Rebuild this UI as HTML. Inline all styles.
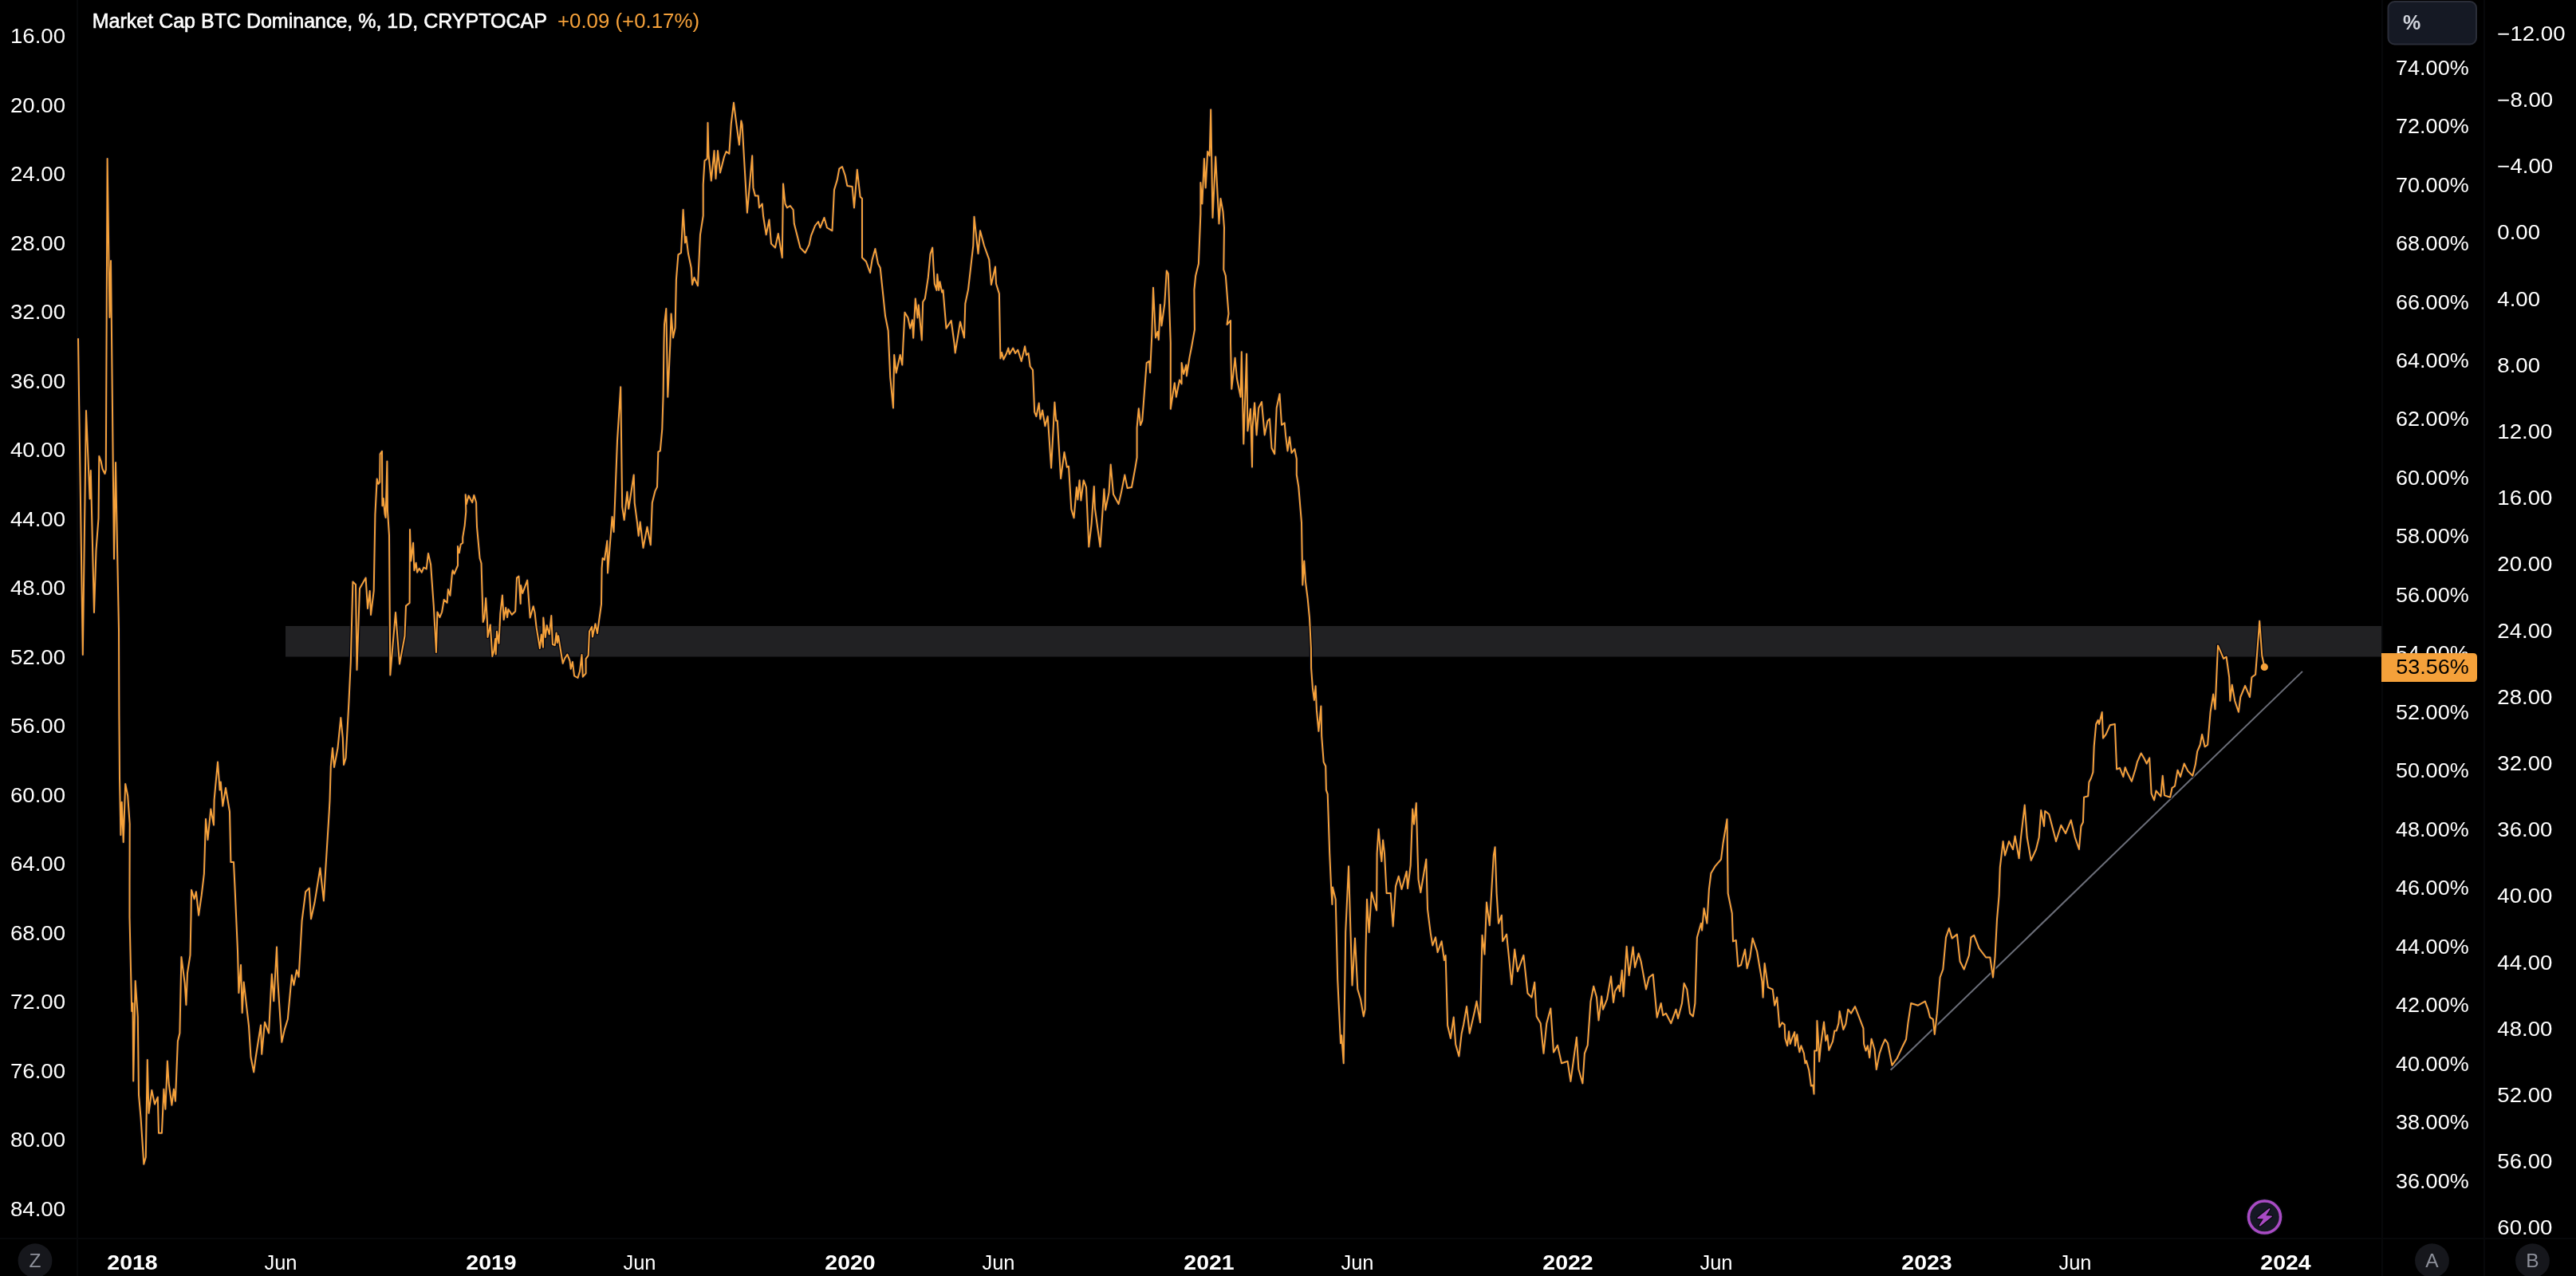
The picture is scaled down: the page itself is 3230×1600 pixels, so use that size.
<!DOCTYPE html>
<html><head><meta charset="utf-8"><style>
html,body{margin:0;padding:0;background:#000;width:3230px;height:1600px;overflow:hidden}
svg{display:block;will-change:transform}
text{font-family:"Liberation Sans", sans-serif;}
.ax{font-size:25.5px;fill:#fff}
.yr{font-weight:bold}
.btn{font-weight:bold;fill:#d1d4dc;font-size:25px}
.lg{font-size:25px;fill:#fff;stroke:#fff;stroke-width:0.6px}
.zab{font-size:24.5px;fill:#8d909a}
</style></head><body>
<svg width="3230" height="1600" viewBox="0 0 3230 1600">
<rect width="3230" height="1600" fill="#000"/>
<rect x="358" y="785" width="2628" height="38.5" fill="#212123"/>
<rect x="96" y="0" width="2" height="1600" fill="#07080a"/>
<rect x="2986" y="0" width="2" height="1600" fill="#07080a"/>
<rect x="3114" y="0" width="2" height="1600" fill="#07080a"/>
<rect x="0" y="1552" width="3230" height="2" fill="#07080a"/>
<text transform="translate(82,54.0) scale(1.082,1)" text-anchor="end" class="ax">16.00</text>
<text transform="translate(82,140.5) scale(1.082,1)" text-anchor="end" class="ax">20.00</text>
<text transform="translate(82,227.0) scale(1.082,1)" text-anchor="end" class="ax">24.00</text>
<text transform="translate(82,313.6) scale(1.082,1)" text-anchor="end" class="ax">28.00</text>
<text transform="translate(82,400.1) scale(1.082,1)" text-anchor="end" class="ax">32.00</text>
<text transform="translate(82,486.6) scale(1.082,1)" text-anchor="end" class="ax">36.00</text>
<text transform="translate(82,573.1) scale(1.082,1)" text-anchor="end" class="ax">40.00</text>
<text transform="translate(82,659.6) scale(1.082,1)" text-anchor="end" class="ax">44.00</text>
<text transform="translate(82,746.2) scale(1.082,1)" text-anchor="end" class="ax">48.00</text>
<text transform="translate(82,832.7) scale(1.082,1)" text-anchor="end" class="ax">52.00</text>
<text transform="translate(82,919.2) scale(1.082,1)" text-anchor="end" class="ax">56.00</text>
<text transform="translate(82,1005.7) scale(1.082,1)" text-anchor="end" class="ax">60.00</text>
<text transform="translate(82,1092.2) scale(1.082,1)" text-anchor="end" class="ax">64.00</text>
<text transform="translate(82,1178.8) scale(1.082,1)" text-anchor="end" class="ax">68.00</text>
<text transform="translate(82,1265.3) scale(1.082,1)" text-anchor="end" class="ax">72.00</text>
<text transform="translate(82,1351.8) scale(1.082,1)" text-anchor="end" class="ax">76.00</text>
<text transform="translate(82,1438.3) scale(1.082,1)" text-anchor="end" class="ax">80.00</text>
<text transform="translate(82,1524.8) scale(1.082,1)" text-anchor="end" class="ax">84.00</text>
<text transform="translate(3004.1,93.6) scale(1.059,1)" class="ax">74.00%</text>
<text transform="translate(3004.1,167.1) scale(1.059,1)" class="ax">72.00%</text>
<text transform="translate(3004.1,240.5) scale(1.059,1)" class="ax">70.00%</text>
<text transform="translate(3004.1,314.0) scale(1.059,1)" class="ax">68.00%</text>
<text transform="translate(3004.1,387.5) scale(1.059,1)" class="ax">66.00%</text>
<text transform="translate(3004.1,461.0) scale(1.059,1)" class="ax">64.00%</text>
<text transform="translate(3004.1,534.4) scale(1.059,1)" class="ax">62.00%</text>
<text transform="translate(3004.1,607.9) scale(1.059,1)" class="ax">60.00%</text>
<text transform="translate(3004.1,681.4) scale(1.059,1)" class="ax">58.00%</text>
<text transform="translate(3004.1,754.8) scale(1.059,1)" class="ax">56.00%</text>
<text transform="translate(3004.1,828.3) scale(1.059,1)" class="ax">54.00%</text>
<text transform="translate(3004.1,901.8) scale(1.059,1)" class="ax">52.00%</text>
<text transform="translate(3004.1,975.2) scale(1.059,1)" class="ax">50.00%</text>
<text transform="translate(3004.1,1048.7) scale(1.059,1)" class="ax">48.00%</text>
<text transform="translate(3004.1,1122.2) scale(1.059,1)" class="ax">46.00%</text>
<text transform="translate(3004.1,1195.6) scale(1.059,1)" class="ax">44.00%</text>
<text transform="translate(3004.1,1269.1) scale(1.059,1)" class="ax">42.00%</text>
<text transform="translate(3004.1,1342.6) scale(1.059,1)" class="ax">40.00%</text>
<text transform="translate(3004.1,1416.1) scale(1.059,1)" class="ax">38.00%</text>
<text transform="translate(3004.1,1489.5) scale(1.059,1)" class="ax">36.00%</text>
<text transform="translate(3131.3,50.8) scale(1.083,1)" class="ax">−12.00</text>
<text transform="translate(3131.3,134.0) scale(1.083,1)" class="ax">−8.00</text>
<text transform="translate(3131.3,217.2) scale(1.083,1)" class="ax">−4.00</text>
<text transform="translate(3131.3,300.4) scale(1.083,1)" class="ax">0.00</text>
<text transform="translate(3131.3,383.6) scale(1.083,1)" class="ax">4.00</text>
<text transform="translate(3131.3,466.8) scale(1.083,1)" class="ax">8.00</text>
<text transform="translate(3131.3,549.9) scale(1.083,1)" class="ax">12.00</text>
<text transform="translate(3131.3,633.1) scale(1.083,1)" class="ax">16.00</text>
<text transform="translate(3131.3,716.3) scale(1.083,1)" class="ax">20.00</text>
<text transform="translate(3131.3,799.5) scale(1.083,1)" class="ax">24.00</text>
<text transform="translate(3131.3,882.7) scale(1.083,1)" class="ax">28.00</text>
<text transform="translate(3131.3,965.9) scale(1.083,1)" class="ax">32.00</text>
<text transform="translate(3131.3,1049.1) scale(1.083,1)" class="ax">36.00</text>
<text transform="translate(3131.3,1132.3) scale(1.083,1)" class="ax">40.00</text>
<text transform="translate(3131.3,1215.5) scale(1.083,1)" class="ax">44.00</text>
<text transform="translate(3131.3,1298.6) scale(1.083,1)" class="ax">48.00</text>
<text transform="translate(3131.3,1381.8) scale(1.083,1)" class="ax">52.00</text>
<text transform="translate(3131.3,1465.0) scale(1.083,1)" class="ax">56.00</text>
<text transform="translate(3131.3,1548.2) scale(1.083,1)" class="ax">60.00</text>
<text x="134.3" y="1591.5" textLength="63.4" lengthAdjust="spacingAndGlyphs" class="ax yr">2018</text>
<text x="584.3" y="1591.5" textLength="63.4" lengthAdjust="spacingAndGlyphs" class="ax yr">2019</text>
<text x="1034.3" y="1591.5" textLength="63.4" lengthAdjust="spacingAndGlyphs" class="ax yr">2020</text>
<text x="1484.3" y="1591.5" textLength="63.4" lengthAdjust="spacingAndGlyphs" class="ax yr">2021</text>
<text x="1934.3" y="1591.5" textLength="63.4" lengthAdjust="spacingAndGlyphs" class="ax yr">2022</text>
<text x="2384.3" y="1591.5" textLength="63.4" lengthAdjust="spacingAndGlyphs" class="ax yr">2023</text>
<text x="2834.3" y="1591.5" textLength="63.4" lengthAdjust="spacingAndGlyphs" class="ax yr">2024</text>
<text x="352" y="1591.5" text-anchor="middle" class="ax">Jun</text>
<text x="802" y="1591.5" text-anchor="middle" class="ax">Jun</text>
<text x="1252" y="1591.5" text-anchor="middle" class="ax">Jun</text>
<text x="1702" y="1591.5" text-anchor="middle" class="ax">Jun</text>
<text x="2152" y="1591.5" text-anchor="middle" class="ax">Jun</text>
<text x="2602" y="1591.5" text-anchor="middle" class="ax">Jun</text>
<line x1="2370.6" y1="1341.7" x2="2887" y2="841.9" stroke="#6b6e79" stroke-width="2"/>
<path d="M98.0,425.0 L103.8,821.0 L108.0,515.0 L112.6,625.5 L113.8,590.0 L118.0,768.0 L120.5,690.0 L123.5,650.0 L124.3,572.0 L126.5,578.0 L128.5,588.0 L131.5,594.0 L132.8,589.0 L134.6,199.0 L137.5,398.0 L139.0,327.0 L143.0,700.7 L145.0,580.0 L149.0,790.0 L149.4,898.0 L150.0,975.6 L151.4,1047.0 L152.7,1005.7 L154.7,1056.0 L157.2,983.0 L160.2,998.0 L162.7,1033.0 L162.5,1110.0 L162.5,1150.0 L165.2,1268.0 L166.5,1258.0 L167.2,1355.6 L169.7,1230.0 L172.8,1275.0 L174.0,1373.0 L176.5,1400.8 L180.3,1459.7 L182.8,1451.0 L184.8,1329.0 L186.5,1395.8 L190.3,1367.0 L194.0,1384.5 L197.8,1375.7 L199.0,1420.8 L202.9,1420.8 L205.4,1365.7 L207.4,1390.7 L209.9,1330.6 L211.6,1358.0 L215.4,1385.7 L217.9,1365.7 L219.9,1380.7 L222.9,1305.5 L225.4,1295.5 L227.4,1200.0 L231.7,1232.8 L233.4,1260.0 L235.0,1220.0 L238.5,1197.6 L239.5,1150.0 L240.0,1115.9 L243.6,1127.3 L245.9,1118.2 L249.1,1147.7 L252.7,1122.7 L255.9,1095.5 L258.0,1027.0 L260.5,1053.0 L264.3,1014.5 L268.0,1034.5 L268.6,1003.0 L273.0,955.5 L275.6,990.6 L276.8,980.6 L279.3,1010.7 L283.0,988.0 L288.0,1018.0 L289.4,1081.0 L293.0,1081.0 L294.4,1110.0 L298.0,1192.6 L299.4,1245.0 L302.0,1210.0 L303.7,1270.0 L305.7,1231.5 L312.0,1286.7 L314.5,1325.5 L318.2,1344.4 L320.7,1325.5 L327.0,1285.4 L328.2,1321.8 L332.0,1281.7 L337.0,1295.5 L340.8,1221.5 L343.3,1255.3 L347.0,1187.6 L348.3,1230.0 L353.3,1306.7 L357.0,1290.4 L360.8,1278.0 L365.9,1222.7 L368.4,1235.3 L372.0,1216.5 L374.6,1225.0 L378.6,1154.5 L383.2,1118.2 L387.7,1113.6 L390.0,1152.3 L394.5,1131.8 L401.4,1088.6 L405.9,1129.5 L408.2,1091.0 L412.7,1018.2 L413.5,1004.0 L414.8,960.5 L417.0,938.0 L419.0,962.0 L423.5,938.0 L427.3,900.0 L429.8,925.4 L431.0,959.0 L433.6,950.5 L437.3,882.8 L439.8,830.0 L442.4,729.6 L446.0,733.0 L447.5,840.0 L451.0,738.0 L458.6,724.5 L461.0,763.0 L463.7,741.0 L465.0,771.0 L468.7,741.0 L470.4,645.0 L472.7,600.4 L474.4,606.8 L476.2,604.7 L476.6,569.4 L479.0,565.9 L479.4,634.3 L480.8,625.1 L482.5,644.2 L483.6,649.0 L485.4,578.6 L486.0,640.6 L488.0,671.3 L489.3,846.4 L496.0,768.0 L501.0,832.6 L507.5,797.5 L509.0,759.7 L513.6,756.0 L514.0,664.1 L515.3,703.3 L518.1,680.8 L519.4,715.2 L521.6,705.8 L523.1,717.7 L525.7,712.7 L528.8,717.7 L531.3,711.5 L534.7,713.4 L537.0,693.9 L540.1,707.7 L543.8,759.8 L546.9,818.0 L548.4,767.5 L551.5,774.0 L554.1,767.5 L556.7,752.0 L560.6,755.9 L561.9,739.0 L564.4,746.8 L567.0,718.4 L567.7,715.2 L569.5,719.6 L574.0,709.0 L574.0,685.1 L575.8,693.3 L577.7,682.6 L580.2,680.8 L580.2,673.9 L582.7,658.8 L584.3,641.3 L583.7,620.2 L584.8,632.2 L587.6,621.6 L592.2,630.0 L594.3,620.9 L597.1,630.0 L597.5,646.0 L598.0,660.6 L601.6,700.0 L603.5,706.3 L605.7,780.0 L607.3,775.0 L609.2,750.0 L611.0,780.0 L611.5,799.0 L614.8,783.5 L617.3,823.0 L619.2,816.8 L621.1,801.1 L621.7,820.5 L623.0,791.7 L625.5,806.7 L627.3,769.6 L629.9,746.4 L631.7,777.1 L634.2,762.1 L636.1,774.0 L637.4,764.0 L641.8,770.8 L646.2,766.5 L648.0,724.5 L650.5,722.6 L652.7,757.0 L653.1,733.9 L655.2,743.9 L661.2,727.6 L664.7,774.6 L668.7,760.2 L670.6,768.3 L672.5,786.0 L676.9,813.0 L678.8,795.4 L681.0,811.7 L681.3,774.6 L683.8,799.2 L685.7,784.2 L688.8,795.4 L691.3,772.1 L692.9,808.0 L695.7,809.2 L697.6,793.6 L698.8,806.1 L700.1,797.3 L702.6,813.0 L705.7,831.8 L708.2,825.5 L711.4,820.5 L714.5,828.7 L715.7,838.7 L717.9,829.9 L720.1,847.5 L724.5,850.0 L727.0,841.8 L729.5,821.1 L730.8,848.7 L734.6,844.3 L734.6,826.2 L737.7,821.8 L739.0,791.7 L742.1,786.0 L743.0,798.6 L746.5,782.3 L749.0,794.2 L751.2,777.3 L754.0,757.7 L754.6,712.5 L755.6,700.0 L758.0,702.0 L761.3,678.3 L762.0,718.4 L767.6,648.0 L769.6,667.0 L774.0,552.9 L778.2,485.2 L780.2,635.6 L782.7,652.0 L786.4,616.8 L788.2,638.0 L794.7,595.5 L795.7,630.6 L799.0,655.7 L800.7,672.0 L802.7,654.5 L806.5,687.0 L811.5,660.7 L815.8,683.3 L817.8,630.6 L821.5,615.6 L824.0,610.6 L825.3,566.7 L827.8,565.4 L830.3,537.8 L831.6,495.2 L832.5,430.0 L833.0,407.0 L835.3,387.0 L837.3,497.7 L840.3,432.5 L841.6,393.4 L844.0,423.5 L846.6,411.0 L847.9,350.7 L850.4,319.4 L854.0,317.0 L856.6,263.0 L859.0,304.4 L860.4,296.8 L863.0,318.0 L866.7,335.7 L868.0,357.0 L870.4,348.0 L875.0,358.3 L878.0,294.3 L881.7,270.5 L881.7,231.6 L883.5,201.5 L886.7,199.0 L887.5,154.0 L888.5,194.0 L891.8,226.6 L895.5,189.0 L897.5,224.0 L900.0,189.0 L903.0,216.6 L908.0,196.5 L910.6,190.0 L914.3,192.8 L916.8,155.0 L920.0,128.8 L923.0,152.6 L926.9,181.5 L929.4,151.4 L930.6,156.4 L931.9,179.0 L936.9,266.7 L943.2,195.3 L944.4,235.4 L946.9,245.4 L950.7,245.4 L952.0,260.5 L955.7,255.5 L957.0,270.5 L960.7,294.3 L964.5,275.5 L967.0,305.6 L972.0,310.6 L975.8,293.0 L980.8,323.0 L982.0,230.4 L984.5,255.5 L987.0,260.5 L990.8,258.0 L994.6,263.0 L995.8,280.5 L1003.4,310.6 L1009.6,317.0 L1014.6,306.9 L1017.0,295.6 L1022.0,283.0 L1026.0,278.0 L1028.4,285.5 L1033.5,273.0 L1037.0,285.5 L1043.5,289.3 L1046.0,238.0 L1049.8,225.4 L1052.3,211.6 L1056.0,209.0 L1059.8,220.3 L1062.3,232.9 L1068.6,234.0 L1071.0,260.5 L1074.8,212.8 L1078.6,246.7 L1081.0,249.0 L1081.0,323.0 L1086.0,328.0 L1091.0,342.0 L1093.6,325.7 L1097.4,312.0 L1101.0,330.7 L1103.7,335.7 L1107.4,370.8 L1110.0,396.0 L1113.7,414.7 L1116.2,472.6 L1120.0,511.5 L1121.2,445.0 L1123.7,467.6 L1128.7,445.0 L1131.3,457.6 L1132.5,430.0 L1134.5,391.8 L1138.5,398.5 L1141.2,411.8 L1143.9,401.2 L1145.2,423.8 L1147.8,374.5 L1150.5,398.5 L1151.8,382.5 L1155.8,426.5 L1157.2,378.5 L1159.8,374.5 L1163.8,347.9 L1166.5,318.6 L1169.2,310.6 L1170.5,334.5 L1171.8,355.9 L1174.5,363.9 L1175.3,343.9 L1177.2,363.9 L1178.5,353.2 L1181.2,366.5 L1182.5,363.9 L1186.5,411.8 L1192.7,402.0 L1196.5,430.0 L1197.7,442.5 L1204.0,403.4 L1209.0,423.5 L1210.3,380.8 L1214.0,363.3 L1220.3,308.0 L1221.5,271.8 L1226.5,318.0 L1229.0,289.3 L1234.0,308.0 L1240.3,325.7 L1242.9,357.0 L1248.0,334.5 L1249.0,355.8 L1252.9,368.3 L1254.4,449.6 L1256.1,442.0 L1258.3,450.7 L1262.1,443.0 L1264.3,436.5 L1265.8,444.1 L1270.2,436.5 L1273.1,443.0 L1276.3,438.7 L1280.7,452.9 L1282.9,444.1 L1285.1,434.3 L1286.9,445.2 L1289.5,443.0 L1291.7,459.5 L1295.0,463.9 L1296.1,490.3 L1297.2,516.6 L1299.4,522.1 L1302.7,505.6 L1304.4,525.4 L1307.1,514.4 L1310.4,534.2 L1313.7,522.1 L1318.1,586.8 L1322.4,504.5 L1324.2,527.6 L1325.8,527.6 L1330.1,600.0 L1334.5,567.1 L1337.8,585.7 L1340.0,584.7 L1343.3,638.4 L1346.6,649.4 L1349.9,611.0 L1351.4,626.4 L1353.6,602.2 L1355.4,627.5 L1358.7,602.2 L1362.0,611.0 L1365.3,685.6 L1368.6,657.1 L1371.8,609.9 L1372.9,637.3 L1379.5,685.6 L1384.4,613.2 L1386.1,639.5 L1390.5,617.6 L1392.7,582.5 L1396.0,619.8 L1402.6,631.9 L1405.9,617.6 L1410.3,595.6 L1413.6,612.1 L1419.0,611.0 L1423.4,586.8 L1425.6,573.7 L1425.6,536.4 L1427.8,512.2 L1430.0,533.1 L1432.2,527.6 L1437.7,455.1 L1441.0,452.9 L1442.1,467.2 L1444.3,420.0 L1446.0,360.8 L1449.0,423.5 L1451.5,416.0 L1452.8,426.0 L1454.8,382.0 L1456.5,408.4 L1460.3,380.8 L1462.8,339.5 L1464.8,343.2 L1467.8,430.0 L1467.8,512.8 L1472.8,480.2 L1474.8,497.7 L1479.0,476.4 L1481.6,481.4 L1481.6,455.0 L1484.1,468.9 L1487.4,457.6 L1487.9,471.4 L1491.6,447.6 L1494.1,435.0 L1497.9,413.4 L1497.4,363.3 L1499.2,345.7 L1502.9,330.7 L1505.4,268.0 L1505.4,229.0 L1507.4,255.5 L1509.9,199.0 L1511.7,235.4 L1514.2,190.0 L1516.7,195.3 L1518.2,137.6 L1520.5,273.0 L1524.2,196.5 L1526.7,245.4 L1528.5,280.5 L1530.5,249.0 L1533.5,265.5 L1535.0,285.5 L1534.3,338.0 L1536.8,345.7 L1540.5,393.4 L1538.5,407.0 L1543.0,402.0 L1543.0,430.0 L1544.3,487.7 L1548.6,448.8 L1551.0,475.0 L1555.6,497.7 L1556.8,441.3 L1559.3,556.6 L1563.1,443.8 L1564.4,540.3 L1568.0,512.8 L1570.0,585.5 L1570.6,535.3 L1573.1,505.2 L1575.6,545.4 L1578.2,511.5 L1582.0,504.0 L1583.2,517.8 L1585.7,545.4 L1589.4,527.8 L1592.0,525.3 L1594.5,561.7 L1598.2,569.2 L1600.7,511.5 L1604.5,494.0 L1607.0,532.8 L1610.7,530.3 L1612.0,545.4 L1614.5,565.4 L1617.0,547.9 L1619.5,568.0 L1623.3,563.0 L1625.8,575.5 L1625.8,595.5 L1628.3,610.6 L1632.0,655.7 L1633.3,733.4 L1635.3,703.4 L1637.0,729.7 L1639.6,750.0 L1642.0,775.0 L1643.9,812.7 L1644.1,837.8 L1645.9,862.9 L1647.9,877.9 L1649.6,860.3 L1650.9,890.4 L1653.4,916.8 L1656.4,885.4 L1657.2,923.0 L1659.7,955.6 L1662.2,960.7 L1662.9,990.7 L1664.7,995.8 L1667.2,1070.0 L1669.0,1110.0 L1670.4,1134.0 L1671.0,1112.6 L1674.7,1127.7 L1677.2,1228.0 L1681.0,1308.2 L1682.2,1298.2 L1684.7,1333.3 L1686.5,1220.5 L1687.2,1169.0 L1691.0,1086.3 L1695.5,1235.5 L1699.0,1176.6 L1702.3,1240.5 L1706.0,1253.0 L1709.8,1274.4 L1711.6,1265.6 L1712.3,1200.4 L1714.0,1127.7 L1716.6,1169.0 L1719.8,1118.9 L1726.1,1141.5 L1726.6,1070.0 L1728.6,1039.7 L1731.1,1070.0 L1732.4,1080.0 L1734.1,1053.4 L1736.0,1070.0 L1738.6,1120.0 L1743.7,1120.0 L1746.7,1161.5 L1750.0,1111.4 L1753.7,1098.8 L1757.5,1115.0 L1763.7,1092.6 L1765.0,1114.0 L1768.7,1085.0 L1771.2,1014.6 L1773.0,1033.4 L1775.8,1007.0 L1777.5,1070.0 L1778.5,1102.6 L1781.3,1119.0 L1788.3,1077.5 L1790.0,1140.0 L1793.8,1170.3 L1796.3,1185.4 L1800.0,1175.3 L1802.6,1194.0 L1807.6,1180.3 L1810.9,1204.0 L1812.6,1198.0 L1815.1,1285.7 L1818.9,1302.0 L1822.7,1275.6 L1825.2,1309.5 L1829.4,1324.5 L1832.7,1295.7 L1835.2,1284.4 L1839.0,1261.9 L1842.7,1295.7 L1849.0,1268.0 L1851.5,1255.6 L1856.0,1282.0 L1858.5,1172.8 L1861.5,1196.6 L1864.0,1131.4 L1867.8,1160.3 L1872.8,1072.5 L1874.6,1062.2 L1876.6,1120.2 L1879.0,1157.8 L1882.9,1147.7 L1884.1,1180.3 L1889.1,1171.6 L1895.4,1234.3 L1899.2,1190.4 L1902.9,1218.0 L1910.4,1197.9 L1915.5,1245.5 L1920.5,1250.6 L1924.2,1231.8 L1926.7,1274.4 L1931.7,1283.2 L1935.5,1320.8 L1939.3,1283.2 L1944.3,1264.4 L1948.0,1319.5 L1953.0,1310.7 L1958.0,1333.3 L1965.6,1330.8 L1969.4,1355.9 L1976.9,1300.7 L1979.4,1340.8 L1984.4,1358.4 L1986.9,1320.8 L1990.7,1310.7 L1994.5,1255.6 L1998.2,1236.8 L2002.0,1250.6 L2004.5,1279.4 L2008.2,1249.3 L2010.0,1265.7 L2015.0,1253.0 L2020.0,1224.3 L2023.0,1257.0 L2025.0,1243.0 L2029.6,1235.6 L2031.0,1243.0 L2033.8,1216.8 L2035.6,1249.4 L2039.6,1186.7 L2042.6,1223.0 L2047.6,1187.4 L2050.0,1213.0 L2054.6,1195.5 L2057.6,1205.5 L2064.0,1240.6 L2067.7,1225.5 L2072.7,1221.8 L2077.7,1275.7 L2082.7,1258.0 L2085.2,1273.2 L2089.0,1270.7 L2095.3,1283.2 L2101.5,1265.7 L2104.0,1277.0 L2109.0,1258.0 L2111.6,1233.0 L2115.3,1240.6 L2119.0,1270.7 L2122.9,1274.4 L2125.4,1258.0 L2127.9,1175.4 L2132.9,1157.8 L2134.1,1166.6 L2136.6,1139.0 L2140.4,1157.8 L2142.9,1115.2 L2145.4,1095.1 L2150.4,1086.4 L2158.0,1077.6 L2160.5,1057.5 L2165.5,1027.2 L2166.7,1120.2 L2171.8,1145.3 L2173.0,1180.4 L2176.8,1179.0 L2179.3,1211.8 L2183.0,1210.0 L2188.0,1190.4 L2190.6,1214.3 L2194.3,1200.5 L2197.6,1176.6 L2203.1,1193.0 L2205.6,1208.0 L2209.4,1230.6 L2210.6,1250.6 L2212.6,1208.0 L2216.9,1238.0 L2222.7,1240.6 L2225.2,1260.7 L2228.2,1250.6 L2231.3,1287.8 L2234.5,1282.4 L2237.6,1284.7 L2238.4,1301.9 L2241.1,1311.3 L2243.1,1293.3 L2244.7,1309.0 L2247.0,1301.9 L2250.2,1294.1 L2250.9,1311.3 L2253.3,1297.2 L2254.9,1311.3 L2256.4,1319.2 L2258.4,1311.3 L2261.9,1320.8 L2263.5,1333.3 L2265.0,1330.2 L2268.2,1341.9 L2270.9,1361.5 L2273.3,1360.7 L2274.5,1371.7 L2275.2,1317.6 L2278.0,1317.6 L2278.4,1280.0 L2280.3,1309.8 L2281.1,1330.9 L2283.1,1309.8 L2287.0,1281.6 L2289.3,1305.1 L2291.3,1298.0 L2293.3,1316.8 L2298.0,1305.9 L2300.3,1292.5 L2302.7,1292.5 L2305.4,1283.1 L2306.6,1268.0 L2311.3,1291.0 L2314.4,1283.9 L2317.2,1265.7 L2321.0,1270.7 L2326.0,1262.0 L2336.4,1289.4 L2337.1,1309.0 L2339.5,1317.6 L2341.8,1311.3 L2344.2,1326.2 L2346.6,1302.7 L2350.5,1316.0 L2352.8,1341.1 L2356.7,1320.8 L2360.0,1311.3 L2363.6,1303.3 L2367.0,1308.0 L2372.4,1335.9 L2378.7,1327.0 L2385.0,1313.3 L2390.0,1303.3 L2392.4,1283.2 L2396.2,1258.0 L2405.0,1260.7 L2413.8,1255.6 L2417.5,1265.7 L2420.0,1275.7 L2423.8,1278.2 L2425.8,1297.0 L2428.8,1270.7 L2432.6,1225.5 L2436.3,1215.5 L2440.0,1175.4 L2443.9,1164.0 L2447.6,1176.6 L2453.9,1171.6 L2457.6,1205.5 L2462.7,1215.5 L2468.9,1198.0 L2471.4,1175.4 L2475.2,1172.9 L2481.5,1189.2 L2490.2,1200.5 L2495.3,1200.5 L2499.0,1225.5 L2501.5,1200.5 L2504.0,1152.8 L2506.6,1122.7 L2507.8,1087.6 L2511.6,1055.0 L2514.0,1072.6 L2519.0,1055.0 L2524.0,1065.0 L2526.6,1048.5 L2531.6,1076.3 L2534.0,1050.0 L2538.7,1009.6 L2541.7,1050.0 L2546.7,1078.8 L2553.0,1065.0 L2556.7,1050.0 L2559.2,1015.9 L2563.0,1036.0 L2564.2,1017.0 L2569.2,1021.0 L2576.8,1050.0 L2578.0,1055.0 L2584.3,1034.7 L2590.0,1045.0 L2596.8,1028.4 L2601.8,1050.0 L2606.9,1065.0 L2609.4,1036.0 L2611.9,1031.0 L2613.1,999.6 L2618.2,998.3 L2619.4,980.8 L2621.9,975.8 L2624.4,968.2 L2625.7,935.6 L2628.2,908.0 L2630.7,903.0 L2632.0,908.0 L2635.7,893.0 L2637.0,925.6 L2640.7,920.6 L2645.7,909.3 L2651.8,908.0 L2654.1,964.5 L2658.0,963.0 L2662.3,974.0 L2664.7,962.2 L2667.0,968.0 L2672.9,979.8 L2677.6,964.5 L2680.0,955.1 L2684.7,944.5 L2688.2,950.4 L2691.7,957.5 L2695.2,950.4 L2697.6,995.1 L2701.1,1003.3 L2703.5,991.6 L2709.4,998.6 L2711.7,972.7 L2714.0,997.4 L2721.1,999.8 L2723.5,988.0 L2727.0,985.7 L2730.5,965.7 L2734.0,974.0 L2738.7,957.5 L2743.4,966.9 L2749.3,972.7 L2752.8,958.6 L2755.2,942.2 L2758.7,934.0 L2761.1,921.0 L2764.6,936.3 L2768.1,934.0 L2771.6,892.8 L2775.2,870.5 L2777.5,889.3 L2781.0,809.4 L2784.6,817.6 L2788.1,825.8 L2791.6,823.5 L2795.2,849.3 L2796.3,878.7 L2798.7,858.7 L2802.2,878.7 L2806.9,892.8 L2809.3,874.0 L2815.1,859.9 L2821.0,874.0 L2823.4,849.3 L2828.1,845.8 L2833.2,778.8 L2836.3,822.3 L2839.3,836.4" fill="none" stroke="#060814" stroke-width="4.6" stroke-linejoin="round" stroke-linecap="round"/>
<path d="M98.0,425.0 L103.8,821.0 L108.0,515.0 L112.6,625.5 L113.8,590.0 L118.0,768.0 L120.5,690.0 L123.5,650.0 L124.3,572.0 L126.5,578.0 L128.5,588.0 L131.5,594.0 L132.8,589.0 L134.6,199.0 L137.5,398.0 L139.0,327.0 L143.0,700.7 L145.0,580.0 L149.0,790.0 L149.4,898.0 L150.0,975.6 L151.4,1047.0 L152.7,1005.7 L154.7,1056.0 L157.2,983.0 L160.2,998.0 L162.7,1033.0 L162.5,1110.0 L162.5,1150.0 L165.2,1268.0 L166.5,1258.0 L167.2,1355.6 L169.7,1230.0 L172.8,1275.0 L174.0,1373.0 L176.5,1400.8 L180.3,1459.7 L182.8,1451.0 L184.8,1329.0 L186.5,1395.8 L190.3,1367.0 L194.0,1384.5 L197.8,1375.7 L199.0,1420.8 L202.9,1420.8 L205.4,1365.7 L207.4,1390.7 L209.9,1330.6 L211.6,1358.0 L215.4,1385.7 L217.9,1365.7 L219.9,1380.7 L222.9,1305.5 L225.4,1295.5 L227.4,1200.0 L231.7,1232.8 L233.4,1260.0 L235.0,1220.0 L238.5,1197.6 L239.5,1150.0 L240.0,1115.9 L243.6,1127.3 L245.9,1118.2 L249.1,1147.7 L252.7,1122.7 L255.9,1095.5 L258.0,1027.0 L260.5,1053.0 L264.3,1014.5 L268.0,1034.5 L268.6,1003.0 L273.0,955.5 L275.6,990.6 L276.8,980.6 L279.3,1010.7 L283.0,988.0 L288.0,1018.0 L289.4,1081.0 L293.0,1081.0 L294.4,1110.0 L298.0,1192.6 L299.4,1245.0 L302.0,1210.0 L303.7,1270.0 L305.7,1231.5 L312.0,1286.7 L314.5,1325.5 L318.2,1344.4 L320.7,1325.5 L327.0,1285.4 L328.2,1321.8 L332.0,1281.7 L337.0,1295.5 L340.8,1221.5 L343.3,1255.3 L347.0,1187.6 L348.3,1230.0 L353.3,1306.7 L357.0,1290.4 L360.8,1278.0 L365.9,1222.7 L368.4,1235.3 L372.0,1216.5 L374.6,1225.0 L378.6,1154.5 L383.2,1118.2 L387.7,1113.6 L390.0,1152.3 L394.5,1131.8 L401.4,1088.6 L405.9,1129.5 L408.2,1091.0 L412.7,1018.2 L413.5,1004.0 L414.8,960.5 L417.0,938.0 L419.0,962.0 L423.5,938.0 L427.3,900.0 L429.8,925.4 L431.0,959.0 L433.6,950.5 L437.3,882.8 L439.8,830.0 L442.4,729.6 L446.0,733.0 L447.5,840.0 L451.0,738.0 L458.6,724.5 L461.0,763.0 L463.7,741.0 L465.0,771.0 L468.7,741.0 L470.4,645.0 L472.7,600.4 L474.4,606.8 L476.2,604.7 L476.6,569.4 L479.0,565.9 L479.4,634.3 L480.8,625.1 L482.5,644.2 L483.6,649.0 L485.4,578.6 L486.0,640.6 L488.0,671.3 L489.3,846.4 L496.0,768.0 L501.0,832.6 L507.5,797.5 L509.0,759.7 L513.6,756.0 L514.0,664.1 L515.3,703.3 L518.1,680.8 L519.4,715.2 L521.6,705.8 L523.1,717.7 L525.7,712.7 L528.8,717.7 L531.3,711.5 L534.7,713.4 L537.0,693.9 L540.1,707.7 L543.8,759.8 L546.9,818.0 L548.4,767.5 L551.5,774.0 L554.1,767.5 L556.7,752.0 L560.6,755.9 L561.9,739.0 L564.4,746.8 L567.0,718.4 L567.7,715.2 L569.5,719.6 L574.0,709.0 L574.0,685.1 L575.8,693.3 L577.7,682.6 L580.2,680.8 L580.2,673.9 L582.7,658.8 L584.3,641.3 L583.7,620.2 L584.8,632.2 L587.6,621.6 L592.2,630.0 L594.3,620.9 L597.1,630.0 L597.5,646.0 L598.0,660.6 L601.6,700.0 L603.5,706.3 L605.7,780.0 L607.3,775.0 L609.2,750.0 L611.0,780.0 L611.5,799.0 L614.8,783.5 L617.3,823.0 L619.2,816.8 L621.1,801.1 L621.7,820.5 L623.0,791.7 L625.5,806.7 L627.3,769.6 L629.9,746.4 L631.7,777.1 L634.2,762.1 L636.1,774.0 L637.4,764.0 L641.8,770.8 L646.2,766.5 L648.0,724.5 L650.5,722.6 L652.7,757.0 L653.1,733.9 L655.2,743.9 L661.2,727.6 L664.7,774.6 L668.7,760.2 L670.6,768.3 L672.5,786.0 L676.9,813.0 L678.8,795.4 L681.0,811.7 L681.3,774.6 L683.8,799.2 L685.7,784.2 L688.8,795.4 L691.3,772.1 L692.9,808.0 L695.7,809.2 L697.6,793.6 L698.8,806.1 L700.1,797.3 L702.6,813.0 L705.7,831.8 L708.2,825.5 L711.4,820.5 L714.5,828.7 L715.7,838.7 L717.9,829.9 L720.1,847.5 L724.5,850.0 L727.0,841.8 L729.5,821.1 L730.8,848.7 L734.6,844.3 L734.6,826.2 L737.7,821.8 L739.0,791.7 L742.1,786.0 L743.0,798.6 L746.5,782.3 L749.0,794.2 L751.2,777.3 L754.0,757.7 L754.6,712.5 L755.6,700.0 L758.0,702.0 L761.3,678.3 L762.0,718.4 L767.6,648.0 L769.6,667.0 L774.0,552.9 L778.2,485.2 L780.2,635.6 L782.7,652.0 L786.4,616.8 L788.2,638.0 L794.7,595.5 L795.7,630.6 L799.0,655.7 L800.7,672.0 L802.7,654.5 L806.5,687.0 L811.5,660.7 L815.8,683.3 L817.8,630.6 L821.5,615.6 L824.0,610.6 L825.3,566.7 L827.8,565.4 L830.3,537.8 L831.6,495.2 L832.5,430.0 L833.0,407.0 L835.3,387.0 L837.3,497.7 L840.3,432.5 L841.6,393.4 L844.0,423.5 L846.6,411.0 L847.9,350.7 L850.4,319.4 L854.0,317.0 L856.6,263.0 L859.0,304.4 L860.4,296.8 L863.0,318.0 L866.7,335.7 L868.0,357.0 L870.4,348.0 L875.0,358.3 L878.0,294.3 L881.7,270.5 L881.7,231.6 L883.5,201.5 L886.7,199.0 L887.5,154.0 L888.5,194.0 L891.8,226.6 L895.5,189.0 L897.5,224.0 L900.0,189.0 L903.0,216.6 L908.0,196.5 L910.6,190.0 L914.3,192.8 L916.8,155.0 L920.0,128.8 L923.0,152.6 L926.9,181.5 L929.4,151.4 L930.6,156.4 L931.9,179.0 L936.9,266.7 L943.2,195.3 L944.4,235.4 L946.9,245.4 L950.7,245.4 L952.0,260.5 L955.7,255.5 L957.0,270.5 L960.7,294.3 L964.5,275.5 L967.0,305.6 L972.0,310.6 L975.8,293.0 L980.8,323.0 L982.0,230.4 L984.5,255.5 L987.0,260.5 L990.8,258.0 L994.6,263.0 L995.8,280.5 L1003.4,310.6 L1009.6,317.0 L1014.6,306.9 L1017.0,295.6 L1022.0,283.0 L1026.0,278.0 L1028.4,285.5 L1033.5,273.0 L1037.0,285.5 L1043.5,289.3 L1046.0,238.0 L1049.8,225.4 L1052.3,211.6 L1056.0,209.0 L1059.8,220.3 L1062.3,232.9 L1068.6,234.0 L1071.0,260.5 L1074.8,212.8 L1078.6,246.7 L1081.0,249.0 L1081.0,323.0 L1086.0,328.0 L1091.0,342.0 L1093.6,325.7 L1097.4,312.0 L1101.0,330.7 L1103.7,335.7 L1107.4,370.8 L1110.0,396.0 L1113.7,414.7 L1116.2,472.6 L1120.0,511.5 L1121.2,445.0 L1123.7,467.6 L1128.7,445.0 L1131.3,457.6 L1132.5,430.0 L1134.5,391.8 L1138.5,398.5 L1141.2,411.8 L1143.9,401.2 L1145.2,423.8 L1147.8,374.5 L1150.5,398.5 L1151.8,382.5 L1155.8,426.5 L1157.2,378.5 L1159.8,374.5 L1163.8,347.9 L1166.5,318.6 L1169.2,310.6 L1170.5,334.5 L1171.8,355.9 L1174.5,363.9 L1175.3,343.9 L1177.2,363.9 L1178.5,353.2 L1181.2,366.5 L1182.5,363.9 L1186.5,411.8 L1192.7,402.0 L1196.5,430.0 L1197.7,442.5 L1204.0,403.4 L1209.0,423.5 L1210.3,380.8 L1214.0,363.3 L1220.3,308.0 L1221.5,271.8 L1226.5,318.0 L1229.0,289.3 L1234.0,308.0 L1240.3,325.7 L1242.9,357.0 L1248.0,334.5 L1249.0,355.8 L1252.9,368.3 L1254.4,449.6 L1256.1,442.0 L1258.3,450.7 L1262.1,443.0 L1264.3,436.5 L1265.8,444.1 L1270.2,436.5 L1273.1,443.0 L1276.3,438.7 L1280.7,452.9 L1282.9,444.1 L1285.1,434.3 L1286.9,445.2 L1289.5,443.0 L1291.7,459.5 L1295.0,463.9 L1296.1,490.3 L1297.2,516.6 L1299.4,522.1 L1302.7,505.6 L1304.4,525.4 L1307.1,514.4 L1310.4,534.2 L1313.7,522.1 L1318.1,586.8 L1322.4,504.5 L1324.2,527.6 L1325.8,527.6 L1330.1,600.0 L1334.5,567.1 L1337.8,585.7 L1340.0,584.7 L1343.3,638.4 L1346.6,649.4 L1349.9,611.0 L1351.4,626.4 L1353.6,602.2 L1355.4,627.5 L1358.7,602.2 L1362.0,611.0 L1365.3,685.6 L1368.6,657.1 L1371.8,609.9 L1372.9,637.3 L1379.5,685.6 L1384.4,613.2 L1386.1,639.5 L1390.5,617.6 L1392.7,582.5 L1396.0,619.8 L1402.6,631.9 L1405.9,617.6 L1410.3,595.6 L1413.6,612.1 L1419.0,611.0 L1423.4,586.8 L1425.6,573.7 L1425.6,536.4 L1427.8,512.2 L1430.0,533.1 L1432.2,527.6 L1437.7,455.1 L1441.0,452.9 L1442.1,467.2 L1444.3,420.0 L1446.0,360.8 L1449.0,423.5 L1451.5,416.0 L1452.8,426.0 L1454.8,382.0 L1456.5,408.4 L1460.3,380.8 L1462.8,339.5 L1464.8,343.2 L1467.8,430.0 L1467.8,512.8 L1472.8,480.2 L1474.8,497.7 L1479.0,476.4 L1481.6,481.4 L1481.6,455.0 L1484.1,468.9 L1487.4,457.6 L1487.9,471.4 L1491.6,447.6 L1494.1,435.0 L1497.9,413.4 L1497.4,363.3 L1499.2,345.7 L1502.9,330.7 L1505.4,268.0 L1505.4,229.0 L1507.4,255.5 L1509.9,199.0 L1511.7,235.4 L1514.2,190.0 L1516.7,195.3 L1518.2,137.6 L1520.5,273.0 L1524.2,196.5 L1526.7,245.4 L1528.5,280.5 L1530.5,249.0 L1533.5,265.5 L1535.0,285.5 L1534.3,338.0 L1536.8,345.7 L1540.5,393.4 L1538.5,407.0 L1543.0,402.0 L1543.0,430.0 L1544.3,487.7 L1548.6,448.8 L1551.0,475.0 L1555.6,497.7 L1556.8,441.3 L1559.3,556.6 L1563.1,443.8 L1564.4,540.3 L1568.0,512.8 L1570.0,585.5 L1570.6,535.3 L1573.1,505.2 L1575.6,545.4 L1578.2,511.5 L1582.0,504.0 L1583.2,517.8 L1585.7,545.4 L1589.4,527.8 L1592.0,525.3 L1594.5,561.7 L1598.2,569.2 L1600.7,511.5 L1604.5,494.0 L1607.0,532.8 L1610.7,530.3 L1612.0,545.4 L1614.5,565.4 L1617.0,547.9 L1619.5,568.0 L1623.3,563.0 L1625.8,575.5 L1625.8,595.5 L1628.3,610.6 L1632.0,655.7 L1633.3,733.4 L1635.3,703.4 L1637.0,729.7 L1639.6,750.0 L1642.0,775.0 L1643.9,812.7 L1644.1,837.8 L1645.9,862.9 L1647.9,877.9 L1649.6,860.3 L1650.9,890.4 L1653.4,916.8 L1656.4,885.4 L1657.2,923.0 L1659.7,955.6 L1662.2,960.7 L1662.9,990.7 L1664.7,995.8 L1667.2,1070.0 L1669.0,1110.0 L1670.4,1134.0 L1671.0,1112.6 L1674.7,1127.7 L1677.2,1228.0 L1681.0,1308.2 L1682.2,1298.2 L1684.7,1333.3 L1686.5,1220.5 L1687.2,1169.0 L1691.0,1086.3 L1695.5,1235.5 L1699.0,1176.6 L1702.3,1240.5 L1706.0,1253.0 L1709.8,1274.4 L1711.6,1265.6 L1712.3,1200.4 L1714.0,1127.7 L1716.6,1169.0 L1719.8,1118.9 L1726.1,1141.5 L1726.6,1070.0 L1728.6,1039.7 L1731.1,1070.0 L1732.4,1080.0 L1734.1,1053.4 L1736.0,1070.0 L1738.6,1120.0 L1743.7,1120.0 L1746.7,1161.5 L1750.0,1111.4 L1753.7,1098.8 L1757.5,1115.0 L1763.7,1092.6 L1765.0,1114.0 L1768.7,1085.0 L1771.2,1014.6 L1773.0,1033.4 L1775.8,1007.0 L1777.5,1070.0 L1778.5,1102.6 L1781.3,1119.0 L1788.3,1077.5 L1790.0,1140.0 L1793.8,1170.3 L1796.3,1185.4 L1800.0,1175.3 L1802.6,1194.0 L1807.6,1180.3 L1810.9,1204.0 L1812.6,1198.0 L1815.1,1285.7 L1818.9,1302.0 L1822.7,1275.6 L1825.2,1309.5 L1829.4,1324.5 L1832.7,1295.7 L1835.2,1284.4 L1839.0,1261.9 L1842.7,1295.7 L1849.0,1268.0 L1851.5,1255.6 L1856.0,1282.0 L1858.5,1172.8 L1861.5,1196.6 L1864.0,1131.4 L1867.8,1160.3 L1872.8,1072.5 L1874.6,1062.2 L1876.6,1120.2 L1879.0,1157.8 L1882.9,1147.7 L1884.1,1180.3 L1889.1,1171.6 L1895.4,1234.3 L1899.2,1190.4 L1902.9,1218.0 L1910.4,1197.9 L1915.5,1245.5 L1920.5,1250.6 L1924.2,1231.8 L1926.7,1274.4 L1931.7,1283.2 L1935.5,1320.8 L1939.3,1283.2 L1944.3,1264.4 L1948.0,1319.5 L1953.0,1310.7 L1958.0,1333.3 L1965.6,1330.8 L1969.4,1355.9 L1976.9,1300.7 L1979.4,1340.8 L1984.4,1358.4 L1986.9,1320.8 L1990.7,1310.7 L1994.5,1255.6 L1998.2,1236.8 L2002.0,1250.6 L2004.5,1279.4 L2008.2,1249.3 L2010.0,1265.7 L2015.0,1253.0 L2020.0,1224.3 L2023.0,1257.0 L2025.0,1243.0 L2029.6,1235.6 L2031.0,1243.0 L2033.8,1216.8 L2035.6,1249.4 L2039.6,1186.7 L2042.6,1223.0 L2047.6,1187.4 L2050.0,1213.0 L2054.6,1195.5 L2057.6,1205.5 L2064.0,1240.6 L2067.7,1225.5 L2072.7,1221.8 L2077.7,1275.7 L2082.7,1258.0 L2085.2,1273.2 L2089.0,1270.7 L2095.3,1283.2 L2101.5,1265.7 L2104.0,1277.0 L2109.0,1258.0 L2111.6,1233.0 L2115.3,1240.6 L2119.0,1270.7 L2122.9,1274.4 L2125.4,1258.0 L2127.9,1175.4 L2132.9,1157.8 L2134.1,1166.6 L2136.6,1139.0 L2140.4,1157.8 L2142.9,1115.2 L2145.4,1095.1 L2150.4,1086.4 L2158.0,1077.6 L2160.5,1057.5 L2165.5,1027.2 L2166.7,1120.2 L2171.8,1145.3 L2173.0,1180.4 L2176.8,1179.0 L2179.3,1211.8 L2183.0,1210.0 L2188.0,1190.4 L2190.6,1214.3 L2194.3,1200.5 L2197.6,1176.6 L2203.1,1193.0 L2205.6,1208.0 L2209.4,1230.6 L2210.6,1250.6 L2212.6,1208.0 L2216.9,1238.0 L2222.7,1240.6 L2225.2,1260.7 L2228.2,1250.6 L2231.3,1287.8 L2234.5,1282.4 L2237.6,1284.7 L2238.4,1301.9 L2241.1,1311.3 L2243.1,1293.3 L2244.7,1309.0 L2247.0,1301.9 L2250.2,1294.1 L2250.9,1311.3 L2253.3,1297.2 L2254.9,1311.3 L2256.4,1319.2 L2258.4,1311.3 L2261.9,1320.8 L2263.5,1333.3 L2265.0,1330.2 L2268.2,1341.9 L2270.9,1361.5 L2273.3,1360.7 L2274.5,1371.7 L2275.2,1317.6 L2278.0,1317.6 L2278.4,1280.0 L2280.3,1309.8 L2281.1,1330.9 L2283.1,1309.8 L2287.0,1281.6 L2289.3,1305.1 L2291.3,1298.0 L2293.3,1316.8 L2298.0,1305.9 L2300.3,1292.5 L2302.7,1292.5 L2305.4,1283.1 L2306.6,1268.0 L2311.3,1291.0 L2314.4,1283.9 L2317.2,1265.7 L2321.0,1270.7 L2326.0,1262.0 L2336.4,1289.4 L2337.1,1309.0 L2339.5,1317.6 L2341.8,1311.3 L2344.2,1326.2 L2346.6,1302.7 L2350.5,1316.0 L2352.8,1341.1 L2356.7,1320.8 L2360.0,1311.3 L2363.6,1303.3 L2367.0,1308.0 L2372.4,1335.9 L2378.7,1327.0 L2385.0,1313.3 L2390.0,1303.3 L2392.4,1283.2 L2396.2,1258.0 L2405.0,1260.7 L2413.8,1255.6 L2417.5,1265.7 L2420.0,1275.7 L2423.8,1278.2 L2425.8,1297.0 L2428.8,1270.7 L2432.6,1225.5 L2436.3,1215.5 L2440.0,1175.4 L2443.9,1164.0 L2447.6,1176.6 L2453.9,1171.6 L2457.6,1205.5 L2462.7,1215.5 L2468.9,1198.0 L2471.4,1175.4 L2475.2,1172.9 L2481.5,1189.2 L2490.2,1200.5 L2495.3,1200.5 L2499.0,1225.5 L2501.5,1200.5 L2504.0,1152.8 L2506.6,1122.7 L2507.8,1087.6 L2511.6,1055.0 L2514.0,1072.6 L2519.0,1055.0 L2524.0,1065.0 L2526.6,1048.5 L2531.6,1076.3 L2534.0,1050.0 L2538.7,1009.6 L2541.7,1050.0 L2546.7,1078.8 L2553.0,1065.0 L2556.7,1050.0 L2559.2,1015.9 L2563.0,1036.0 L2564.2,1017.0 L2569.2,1021.0 L2576.8,1050.0 L2578.0,1055.0 L2584.3,1034.7 L2590.0,1045.0 L2596.8,1028.4 L2601.8,1050.0 L2606.9,1065.0 L2609.4,1036.0 L2611.9,1031.0 L2613.1,999.6 L2618.2,998.3 L2619.4,980.8 L2621.9,975.8 L2624.4,968.2 L2625.7,935.6 L2628.2,908.0 L2630.7,903.0 L2632.0,908.0 L2635.7,893.0 L2637.0,925.6 L2640.7,920.6 L2645.7,909.3 L2651.8,908.0 L2654.1,964.5 L2658.0,963.0 L2662.3,974.0 L2664.7,962.2 L2667.0,968.0 L2672.9,979.8 L2677.6,964.5 L2680.0,955.1 L2684.7,944.5 L2688.2,950.4 L2691.7,957.5 L2695.2,950.4 L2697.6,995.1 L2701.1,1003.3 L2703.5,991.6 L2709.4,998.6 L2711.7,972.7 L2714.0,997.4 L2721.1,999.8 L2723.5,988.0 L2727.0,985.7 L2730.5,965.7 L2734.0,974.0 L2738.7,957.5 L2743.4,966.9 L2749.3,972.7 L2752.8,958.6 L2755.2,942.2 L2758.7,934.0 L2761.1,921.0 L2764.6,936.3 L2768.1,934.0 L2771.6,892.8 L2775.2,870.5 L2777.5,889.3 L2781.0,809.4 L2784.6,817.6 L2788.1,825.8 L2791.6,823.5 L2795.2,849.3 L2796.3,878.7 L2798.7,858.7 L2802.2,878.7 L2806.9,892.8 L2809.3,874.0 L2815.1,859.9 L2821.0,874.0 L2823.4,849.3 L2828.1,845.8 L2833.2,778.8 L2836.3,822.3 L2839.3,836.4" fill="none" stroke="#f5a13a" stroke-width="2" stroke-linejoin="round" stroke-linecap="round"/>
<circle cx="2839.3" cy="836.4" r="4.6" fill="#f5a13a"/>
<path d="M2986,819 H3101 Q3106,819 3106,824 V850 Q3106,855 3101,855 H2986 Z" fill="#f5a13a"/>
<text transform="translate(3004.2,844.9) scale(1.059,1)" class="ax" style="fill:#000">53.56%</text>
<rect x="2994.5" y="2" width="110.5" height="53.5" rx="8" fill="#151924" stroke="#2a2d38" stroke-width="2"/>
<text x="3013" y="36.8" class="ax btn">%</text>
<text x="115.8" y="34.7" class="lg">Market Cap BTC Dominance, %, 1D, CRYPTOCAP</text>
<text x="699" y="34.7" textLength="178" lengthAdjust="spacingAndGlyphs" style="font-size:25px;fill:#f5a13a">+0.09 (+0.17%)</text>
<circle cx="2839.5" cy="1526.1" r="23" fill="#0d0f17"/>
<circle cx="2839.5" cy="1526.1" r="20" fill="#161824" stroke="#a94bc4" stroke-width="3.5"/>
<path d="M2845.6,1516 L2831.2,1527.3 L2839.4,1527.7 L2833.6,1536.8 L2848.1,1525.2 L2839.9,1524.8 Z" fill="#07080c" stroke="#07080c" stroke-width="4" stroke-linejoin="round"/>
<path d="M2845.6,1516 L2831.2,1527.3 L2839.4,1527.7 L2833.6,1536.8 L2848.1,1525.2 L2839.9,1524.8 Z" fill="#a94bc4" stroke="#a94bc4" stroke-width="1.6" stroke-linejoin="round"/>
<circle cx="44" cy="1580.7" r="21.4" fill="#16171c"/>
<text x="44" y="1589" text-anchor="middle" class="zab">Z</text>
<circle cx="3049.5" cy="1580.7" r="21.4" fill="#16171c"/>
<text x="3049.5" y="1589" text-anchor="middle" class="zab">A</text>
<circle cx="3175.5" cy="1580.7" r="21.4" fill="#16171c"/>
<text x="3175.5" y="1589" text-anchor="middle" class="zab">B</text>
</svg></body></html>
